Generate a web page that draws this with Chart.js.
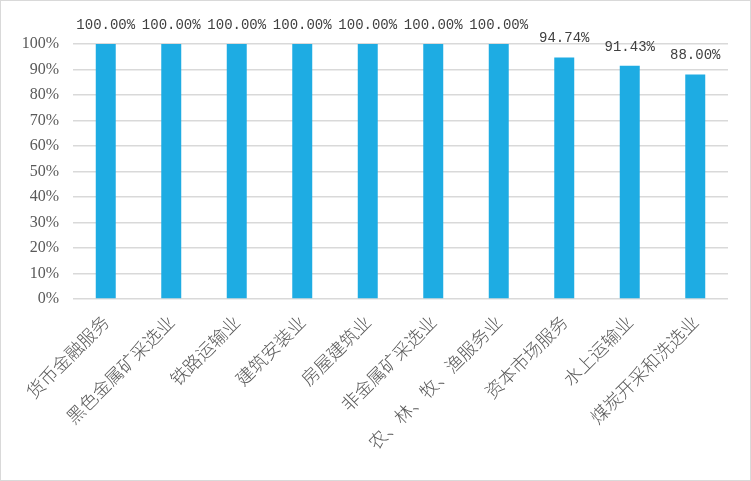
<!DOCTYPE html>
<html>
<head>
<meta charset="utf-8">
<script src="https://cdn.jsdelivr.net/npm/chart.js@4"></script>
<style>
    html, body { margin: 0; padding: 0; background: #fff; }
    #wrap { width: 751px; height: 481px; box-sizing: border-box; border: 1px solid #d9d9d9; }
    canvas { display: block; }
</style>
</head>
<body>
<div id="wrap"><canvas id="rateChart" width="749" height="479"></canvas></div>
<script>
// categories and values (percent)
const industries = ['货币金融服务', '黑色金属矿采选业', '铁路运输业', '建筑安装业', '房屋建筑业',
    '非金属矿采选业', '农、林、牧、渔服务业', '资本市场服务', '水上运输业', '煤炭开采和洗选业'];
const rates = [100.00, 100.00, 100.00, 100.00, 100.00, 100.00, 100.00, 94.74, 91.43, 88.00];
const yTicks = [0, 10, 20, 30, 40, 50, 60, 70, 80, 90, 100];

// draws the value labels above each bar
const valueLabels = {
    id: 'valueLabels',
    afterDatasetsDraw(chart) {
        const ctx = chart.ctx;
        const meta = chart.getDatasetMeta(0);
        ctx.save();
        ctx.font = '14px "Liberation Mono", monospace';
        ctx.fillStyle = '#404040';
        ctx.textAlign = 'center';
        ctx.textBaseline = 'middle';
        meta.data.forEach((bar, i) => {
            ctx.fillText(rates[i].toFixed(2) + '%', bar.x, bar.y - 19);
        });
        ctx.restore();
    }
};

const ctx = document.getElementById('rateChart').getContext('2d');
const rateChart = new Chart(ctx, {
    type: 'bar',
    data: {
        labels: industries,
        datasets: [{
            data: rates,
            backgroundColor: '#1EACE3',
            borderWidth: 0,
            barPercentage: 0.61,
            categoryPercentage: 0.5
        }]
    },
    options: {
        responsive: false,
        animation: false,
        layout: { padding: { top: 43, right: 22, left: 0, bottom: 0 } },
        plugins: {
            legend: { display: false },
            tooltip: { enabled: false }
        },
        scales: {
            x: {
                grid: { display: false, drawTicks: false },
                border: { display: false },
                ticks: {
                    autoSkip: false,
                    maxRotation: 45,
                    minRotation: 45,
                    padding: 12,
                    color: '#595959',
                    font: { family: '"Noto Sans CJK SC", sans-serif', size: 18, weight: 300 }
                },
                afterFit: scale => { scale.height = 181; }
            },
            y: {
                min: 0,
                max: 100,
                afterBuildTicks: scale => { scale.ticks = yTicks.map(v => ({ value: v })); },
                grid: { color: '#d9d9d9', lineWidth: 1.5, drawTicks: false },
                border: { display: false },
                ticks: {
                    padding: 14,
                    color: '#595959',
                    font: { family: '"Liberation Serif", serif', size: 16 },
                    callback: v => v + '%'
                },
                afterFit: scale => { scale.width = 72; }
            }
        }
    },
    plugins: [valueLabels]
});
</script>
</body>
</html>
